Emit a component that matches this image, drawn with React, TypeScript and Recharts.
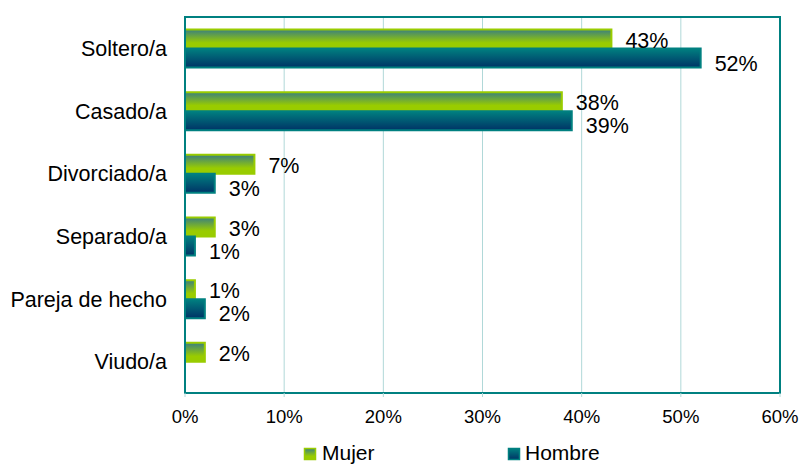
import {
  Bar,
  BarChart,
  CartesianGrid,
  LabelList,
  Legend,
  ReferenceArea,
  XAxis,
  YAxis,
} from "recharts";

document.body.style.margin = "0";

const categories = ["Soltero/a", "Casado/a", "Divorciado/a", "Separado/a", "Pareja de hecho", "Viudo/a"];
const mujer = [0.43, 0.38, 0.07, 0.03, 0.01, 0.02];
const hombre = [0.52, 0.39, 0.03, 0.01, 0.02, null];
const xTicks = [0, 0.1, 0.2, 0.3, 0.4, 0.5, 0.6];
const bandTicks = [0, 1, 2, 3, 4, 5, 6];

const data = categories.map((name, i) => ({ name, mujer: mujer[i], hombre: hombre[i] }));

const FONT = "'Liberation Sans', Arial, sans-serif";
const TEAL = "#008080";
const GRID = "#b0d8d8";

const pct = (v: number) => `${Math.round(v * 100)}%`;

function makeLabel(extraDy: number) {
  return (props: any) => {
    const { x, y, width, height, value } = props;
    if (value == null || value === 0) return null;
    return (
      <text
        x={x + width + 14}
        y={y + height / 2 + extraDy}
        dy="0.35em"
        fontSize={21.5}
        fontFamily={FONT}
        fill="#000"
      >
        {pct(value)}
      </text>
    );
  };
}

function LegendContent() {
  return (
    <svg width={802} height={23}>
      <rect x={304.5} y={6.5} width={11} height={11} fill="url(#gradMujer)" stroke="#99cc00" strokeWidth={1.5} />
      <text x={322} y={18} fontSize={21} fontFamily={FONT} fill="#000">Mujer</text>
      <rect x={508.5} y={6.5} width={11} height={11} fill="url(#gradHombre)" stroke={TEAL} strokeWidth={1.5} />
      <text x={525} y={18} fontSize={21} fontFamily={FONT} fill="#000">Hombre</text>
    </svg>
  );
}

export default function App() {
  return (
    <div style={{ width: 802, height: 465, background: "#fff" }}>
      <BarChart
        width={802}
        height={465}
        data={data}
        layout="vertical"
        margin={{ top: 17, right: 22, left: 0, bottom: 0 }}
        barCategoryGap="20%"
        barGap={0}
      >
        <defs>
          <linearGradient id="gradMujer" x1="0" y1="0" x2="0" y2="1">
            <stop offset="0%" stopColor="#3a7f80" />
            <stop offset="70%" stopColor="#99cc00" />
            <stop offset="100%" stopColor="#99cc00" />
          </linearGradient>
          <linearGradient id="gradHombre" x1="0" y1="0" x2="0" y2="1">
            <stop offset="0%" stopColor="#008080" />
            <stop offset="100%" stopColor="#003366" />
          </linearGradient>
        </defs>
        <CartesianGrid horizontal={false} stroke={GRID} strokeWidth={1} />
        <XAxis
          type="number"
          domain={[0, 0.6]}
          ticks={xTicks}
          tickFormatter={pct}
          height={72}
          axisLine={{ stroke: TEAL, strokeWidth: 2 }}
          tickLine={{ stroke: GRID }}
          tickSize={4}
          tickMargin={13}
          tick={{ fill: "#000", fontSize: 18.5, fontFamily: FONT }}
          interval={0}
        />
        <YAxis
          type="category"
          dataKey="name"
          width={185}
          axisLine={{ stroke: TEAL, strokeWidth: 2 }}
          tickLine={false}
          tickSize={0}
          tickMargin={18}
          tick={{ fill: "#000", fontSize: 21.5, fontFamily: FONT }}
          interval={0}
        />
        <YAxis
          yAxisId="band"
          type="number"
          domain={[0, 6]}
          ticks={bandTicks}
          allowDataOverflow
          mirror
          width={10}
          tick={false}
          axisLine={false}
          tickLine={{ stroke: GRID }}
          tickSize={-5}
        />
        <Bar
          dataKey="mujer"
          name="Mujer"
          fill="url(#gradMujer)"
          stroke="#99cc00"
          strokeWidth={2}
          isAnimationActive={false}
        >
          <LabelList dataKey="mujer" content={makeLabel(1)} />
        </Bar>
        <Bar
          dataKey="hombre"
          name="Hombre"
          fill="url(#gradHombre)"
          stroke={TEAL}
          strokeWidth={2}
          isAnimationActive={false}
        >
          <LabelList dataKey="hombre" content={makeLabel(5)} />
        </Bar>
        <ReferenceArea x1={0} x2={0.6} fill="none" stroke={TEAL} strokeWidth={2} ifOverflow="visible" />
        <Legend
          layout="horizontal"
          verticalAlign="middle"
          align="center"
          content={<LegendContent />}
          wrapperStyle={{ top: 442, left: 0, width: 802, height: 23 }}
        />
      </BarChart>
    </div>
  );
}
